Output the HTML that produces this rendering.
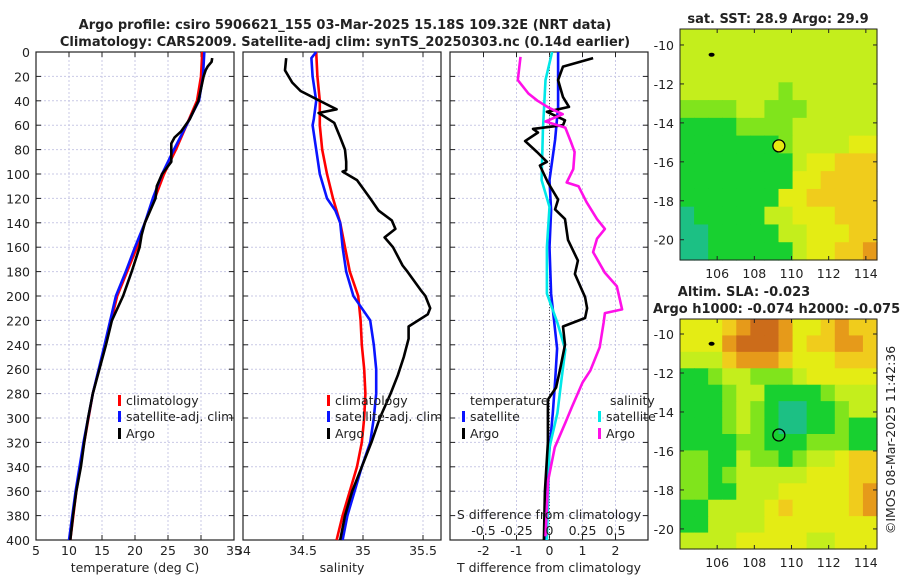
<!DOCTYPE html>
<html><head><meta charset="utf-8"><style>
body{margin:0;background:#fff;}
svg{display:block;font-family:"DejaVu Sans","Liberation Sans",sans-serif;}
</style></head><body>
<svg id="c" width="900" height="580"></svg>
<script>
// ---------- data ----------
const tClimDepth=[0,20,40,60,80,100,120,140,160,180,200,240,280,320,360,400];
const tClimVals=[30.2,30.0,29.4,27.8,26.2,24.4,23.0,21.5,20.3,18.8,17.3,15.5,13.6,12.3,11.1,10.2];
const tSatVals=[30.5,30.3,29.7,27.8,25.9,24.1,22.7,21.5,20.0,18.6,17.1,15.4,13.6,12.2,11.0,10.0];
const tArgoDepth=[5,8,12,15,20,40,55,65,70,75,80,90,100,110,120,140,150,160,180,200,220,240,260,280,300,320,340,360,380,400];
const tArgoVals=[31.7,31.6,31.0,30.7,30.4,29.6,28.3,27.0,26.0,25.5,25.5,25.5,24.1,23.3,23.1,21.5,21.0,20.7,19.5,18.2,16.5,15.6,14.6,13.6,12.9,12.3,11.8,11.1,10.6,10.2];
const sClimDepth=[0,20,40,60,80,100,120,140,160,180,200,220,240,260,280,300,320,340,360,380,400];
const sClimVals=[34.61,34.62,34.64,34.64,34.66,34.70,34.75,34.81,34.85,34.89,34.96,34.98,34.99,35.01,35.02,35.01,34.99,34.95,34.89,34.83,34.78];
const sSatDepth=[0,5,20,40,55,60,80,100,120,130,140,160,180,200,210,220,240,260,280,300,320,340,360,380,400];
const sSatVals=[34.61,34.57,34.58,34.61,34.59,34.58,34.61,34.64,34.70,34.77,34.81,34.83,34.86,34.92,34.99,35.06,35.09,35.11,35.11,35.09,35.06,34.99,34.93,34.87,34.83];
const sArgoDepth=[5,15,25,32,38,43,47,50,53,58,70,80,90,97,98,105,120,130,138,145,152,160,175,180,195,200,210,215,225,235,250,265,280,300,320,340,360,380,400];
const sArgoVals=[34.36,34.35,34.41,34.48,34.60,34.70,34.78,34.63,34.68,34.76,34.81,34.85,34.86,34.86,34.83,34.95,35.06,35.13,35.24,35.27,35.18,35.25,35.33,35.37,35.48,35.52,35.56,35.54,35.38,35.38,35.34,35.29,35.23,35.14,35.07,34.99,34.91,34.85,34.81];
const dTSatDepth=[0,45,72,105,130,160,198,243,270,296,340,400];
const dTSatVals=[0.26,0.26,0.17,0,0.05,0,0.05,0.23,0.17,0.1,-0.05,-0.14];
const dTArgoDepth=[5,12,23,37,45,49,56,60,63,66,73,82,90,93,107,121,129,137,154,171,182,201,210,218,225,240,260,275,285,320,360,400];
const dTArgoVals=[1.32,0.41,0.26,0.41,0.59,-0.08,0.47,0.41,-0.5,-0.35,-0.74,-0.38,-0.08,-0.29,-0.05,0.26,0.17,0.47,0.56,0.86,0.77,1.08,1.14,1.08,0.41,0.47,0.32,0.2,-0.05,-0.05,-0.14,-0.17];
const dSSatDepth=[0,23,64,105,127,160,198,222,244,269,296,324,400];
const dSSatVals=[0.02,-0.03,-0.05,-0.06,0.0,-0.02,-0.02,0.06,0.12,0.09,0.06,0.0,-0.02];
const dSArgoDepth=[4,23,34,40,46,51,57,62,73,82,96,107,110,123,137,145,153,164,181,192,211,214,222,242,261,271,291,304,324,351,397];
const dSArgoVals=[-0.22,-0.24,-0.16,-0.09,0.0,0.10,-0.03,0.12,0.16,0.19,0.18,0.13,0.22,0.28,0.36,0.42,0.36,0.33,0.42,0.51,0.55,0.42,0.41,0.38,0.31,0.25,0.17,0.12,0.04,-0.01,-0.03];
const depthTicks=[0,20,40,60,80,100,120,140,160,180,200,220,240,260,280,300,320,340,360,380,400];
const tTicks=[5,10,15,20,25,30,35];
const sTicks=[34,34.5,35,35.5];
const dTTicks=[-2,-1,0,1,2];
const dSTicks=[-0.5,-0.25,0,0.25,0.5];
const sstGrid=["33333333333333","33333333333333","33333333333333","33333332333333","22223322233333","11112222333333","11111112333344","11111111344555","11111111445555","11111114455555","01111133444555","00111113344455","00111111344556"];
const slaGrid=["44456776445655","44467776455665","33356665444555","11233222344444","11123311112333","11123210011233","11123210011211","11112211122211","22113221233455","22123333344455","22113334444456","11333345444456","11333344444444","33334444433444"];
const mapLonTicks=[106,108,110,112,114];
const mapLatTicks=[-10,-12,-14,-16,-18,-20];
const palette=["#1cc084","#18d030","#80e41c","#c4ee1c","#e4ec14","#f0cc1c","#e69a1a","#cc6c1a"];

// ---------- helpers ----------
const NS="http://www.w3.org/2000/svg";
const svg=document.getElementById('c');
function mk(tag,attrs,parent){const e=document.createElementNS(NS,tag);for(const k in attrs)e.setAttribute(k,attrs[k]);(parent||svg).appendChild(e);return e;}
function txt(x,y,s,size,anchor,weight,parent){const t=mk('text',{x:x,y:y,'font-size':size,'text-anchor':anchor||'middle','font-weight':weight||'normal',fill:'#222'},parent);t.textContent=s;return t;}
const Y0=52,Y1=540;
const yD=d=>Y0+(d/400)*(Y1-Y0);
function lin(d0,d1,r0,r1){return v=>r0+(v-d0)/(d1-d0)*(r1-r0);}

function panel(name,x0,x1,xs,ticks){
  const g=mk('g',{});
  
  
  mk('rect',{x:x0,y:Y0,width:x1-x0,height:Y1-Y0,fill:'#fff'},g);
  ticks.forEach(t=>{const x=xs(t);mk('line',{x1:x,x2:x,y1:Y0,y2:Y1,stroke:'#c9c9e6','stroke-width':1,'stroke-dasharray':'2,2'},g);});
  depthTicks.forEach(d=>{const y=yD(d);mk('line',{x1:x0,x2:x1,y1:y,y2:y,stroke:'#c9c9e6','stroke-width':1,'stroke-dasharray':'2,2'},g);
    mk('line',{x1:x0,x2:x0+5,y1:y,y2:y,stroke:'#222'},g);mk('line',{x1:x1-5,x2:x1,y1:y,y2:y,stroke:'#222'},g);});
  ticks.forEach(t=>{const x=xs(t);mk('line',{x1:x,x2:x,y1:Y1-5,y2:Y1,stroke:'#222'},g);mk('line',{x1:x,x2:x,y1:Y0,y2:Y0+5,stroke:'#222'},g);});
  mk('rect',{x:x0,y:Y0,width:x1-x0,height:Y1-Y0,fill:'none',stroke:'#222','stroke-width':1.2},g);
  return g;
}
function line(g,name,depths,vals,xs,color){
  const pts=depths.map((d,i)=>xs(vals[i]).toFixed(1)+','+yD(d).toFixed(1)).join(' ');
  const p=mk('polyline',{points:pts,fill:'none',stroke:color,'stroke-width':2.6,'stroke-linejoin':'round'},g);
  
  
}
function legend(g,x,y,color,label,name){
  mk('rect',{x:x,y:y-10,width:3,height:11,fill:color},g);
  const t=txt(x+8,y,label,12.5,'start','normal',g);
  
  
}

// titles
let t1=txt(345,29,'Argo profile: csiro 5906621_155 03-Mar-2025 15.18S 109.32E (NRT data)',13,'middle','bold');


let t2=txt(345,46,'Climatology: CARS2009. Satellite-adj clim: synTS_20250303.nc (0.14d earlier)',13,'middle','bold');



// panel 1 temperature
const xT=lin(5,35,36,234);
const p1=panel('temperature-panel',36,234,xT,tTicks);
depthTicks.forEach(d=>{const t=txt(30,yD(d)+5,String(d),12.5,'end','normal');});
tTicks.forEach(v=>txt(xT(v),555,String(v),12.5,'middle','normal'));
let xl1=txt(135,572,'temperature (deg C)',12.5);


line(p1,'temperature-climatology-line',tClimDepth,tClimVals,xT,'#ff0000');
line(p1,'temperature-satellite-line',tClimDepth,tSatVals,xT,'#0a14ff');
line(p1,'temperature-argo-line',tArgoDepth,tArgoVals,xT,'#000');
legend(p1,118,405,'#ff0000','climatology','legend-climatology');
legend(p1,118,421,'#0a14ff','satellite-adj. clim','legend-satellite');
legend(p1,118,438,'#000','Argo','legend-argo');

// panel 2 salinity
const xS=lin(34,35.5,243,423);
const p2=panel('salinity-panel',243,441,xS,sTicks);
sTicks.forEach(v=>txt(xS(v),555,String(v),12.5,'middle','normal'));
let xl2=txt(342,572,'salinity',12.5);


line(p2,'salinity-climatology-line',sClimDepth,sClimVals,xS,'#ff0000');
line(p2,'salinity-satellite-line',sSatDepth,sSatVals,xS,'#0a14ff');
line(p2,'salinity-argo-line',sArgoDepth,sArgoVals,xS,'#000');
legend(p2,327,405,'#ff0000','climatology','legend-climatology');
legend(p2,327,421,'#0a14ff','satellite-adj. clim','legend-satellite');
legend(p2,327,438,'#000','Argo','legend-argo');

// panel 3 differences
const xdT=lin(-2,2,483.5,615.5);
const xdS=v=>xdT(v*4);
const p3=panel('difference-panel',450,648,xdT,dTTicks);
mk('line',{x1:xdT(0),x2:xdT(0),y1:Y0,y2:Y1,stroke:'#555','stroke-dasharray':'1,2'},p3);
line(p3,'t-diff-satellite-line',dTSatDepth,dTSatVals,xdT,'#0a14ff');
line(p3,'s-diff-satellite-line',dSSatDepth,dSSatVals,xdS,'#00e8e8');
line(p3,'t-diff-argo-line',dTArgoDepth,dTArgoVals,xdT,'#000');
line(p3,'s-diff-argo-line',dSArgoDepth,dSArgoVals,xdS,'#ff10e8');
txt(470,405,'temperature',12.5,'start','normal',p3);
legend(p3,462,421,'#0a14ff','satellite','legend-t-satellite');
legend(p3,462,438,'#000','Argo','legend-t-argo');
txt(610,405,'salinity',12.5,'start','normal',p3);
legend(p3,598,421,'#00e8e8','satellite','legend-s-satellite');
legend(p3,598,438,'#ff10e8','Argo','legend-s-argo');
let sdt=txt(549,519,'S difference from climatology',12.5,'middle','normal',p3);


dSTicks.forEach(v=>txt(xdS(v),535,String(v),12.5,'middle','normal',p3));
dTTicks.forEach(v=>txt(xdT(v),555,String(v),12.5,'middle','normal'));
let tdt=txt(549,572,'T difference from climatology',12.5);



// maps
function map(name,grid,x0,y0,x1,y1,latTop,latBot){
  const g=mk('g',{});
  
  
  const rows=grid.length,cols=grid[0].length;
  const cw=(x1-x0)/cols,ch=(y1-y0)/rows;
  grid.forEach((row,r)=>{for(let c=0;c<cols;c++){
    mk('rect',{x:(x0+c*cw).toFixed(2),y:(y0+r*ch).toFixed(2),width:(cw+0.6).toFixed(2),height:(ch+0.6).toFixed(2),fill:palette[+row[c]]},g);}});
  const xL=lin(104.0,114.6,x0,x1), yL=lin(latTop,latBot,y0,y1);
  mk('rect',{x:x0,y:y0,width:x1-x0,height:y1-y0,fill:'none',stroke:'#222','stroke-width':1},g);
  mapLonTicks.forEach(v=>{const x=xL(v);mk('line',{x1:x,x2:x,y1:y1,y2:y1-4,stroke:'#222'},g);mk('line',{x1:x,x2:x,y1:y0,y2:y0+4,stroke:'#222'},g);txt(x,y1+18,String(v),12.5,'middle','normal',g);});
  mapLatTicks.forEach(v=>{const y=yL(v);mk('line',{x1:x0,x2:x0+4,y1:y,y2:y,stroke:'#222'},g);mk('line',{x1:x1,x2:x1-4,y1:y,y2:y,stroke:'#222'},g);txt(x0-6,y+5,String(v),12.5,'end','normal',g);});
  mk('ellipse',{cx:xL(105.7),cy:yL(-10.5),rx:3,ry:2,fill:'#000'},g);
  return {g,xL,yL};
}
const m1=map('sst-map',sstGrid,680,29,877,260,-9.18,-21.04);
const c1=mk('circle',{cx:m1.xL(109.32),cy:m1.yL(-15.18),r:6,fill:'#e8e810',stroke:'#000','stroke-width':1.3},m1.g);


let mt1=txt(778,23,'sat. SST: 28.9 Argo: 29.9',13,'middle','bold');



const m2=map('sla-map',slaGrid,680,319,877,549,-9.23,-21.03);
const c2=mk('circle',{cx:m2.xL(109.32),cy:m2.yL(-15.18),r:6,fill:'none',stroke:'#000','stroke-width':1.3},m2.g);


let mt2=txt(744,296,'Altim. SLA: -0.023',13,'middle','bold');


let mt3=txt(653,313,'Argo h1000: -0.074 h2000: -0.075',13,'start','bold');


let cp=txt(0,0,'©IMOS 08-Mar-2025 11:42:36',12.5,'middle','normal');
cp.setAttribute('transform','translate(895,440) rotate(-90)');


</script>
</body></html>
